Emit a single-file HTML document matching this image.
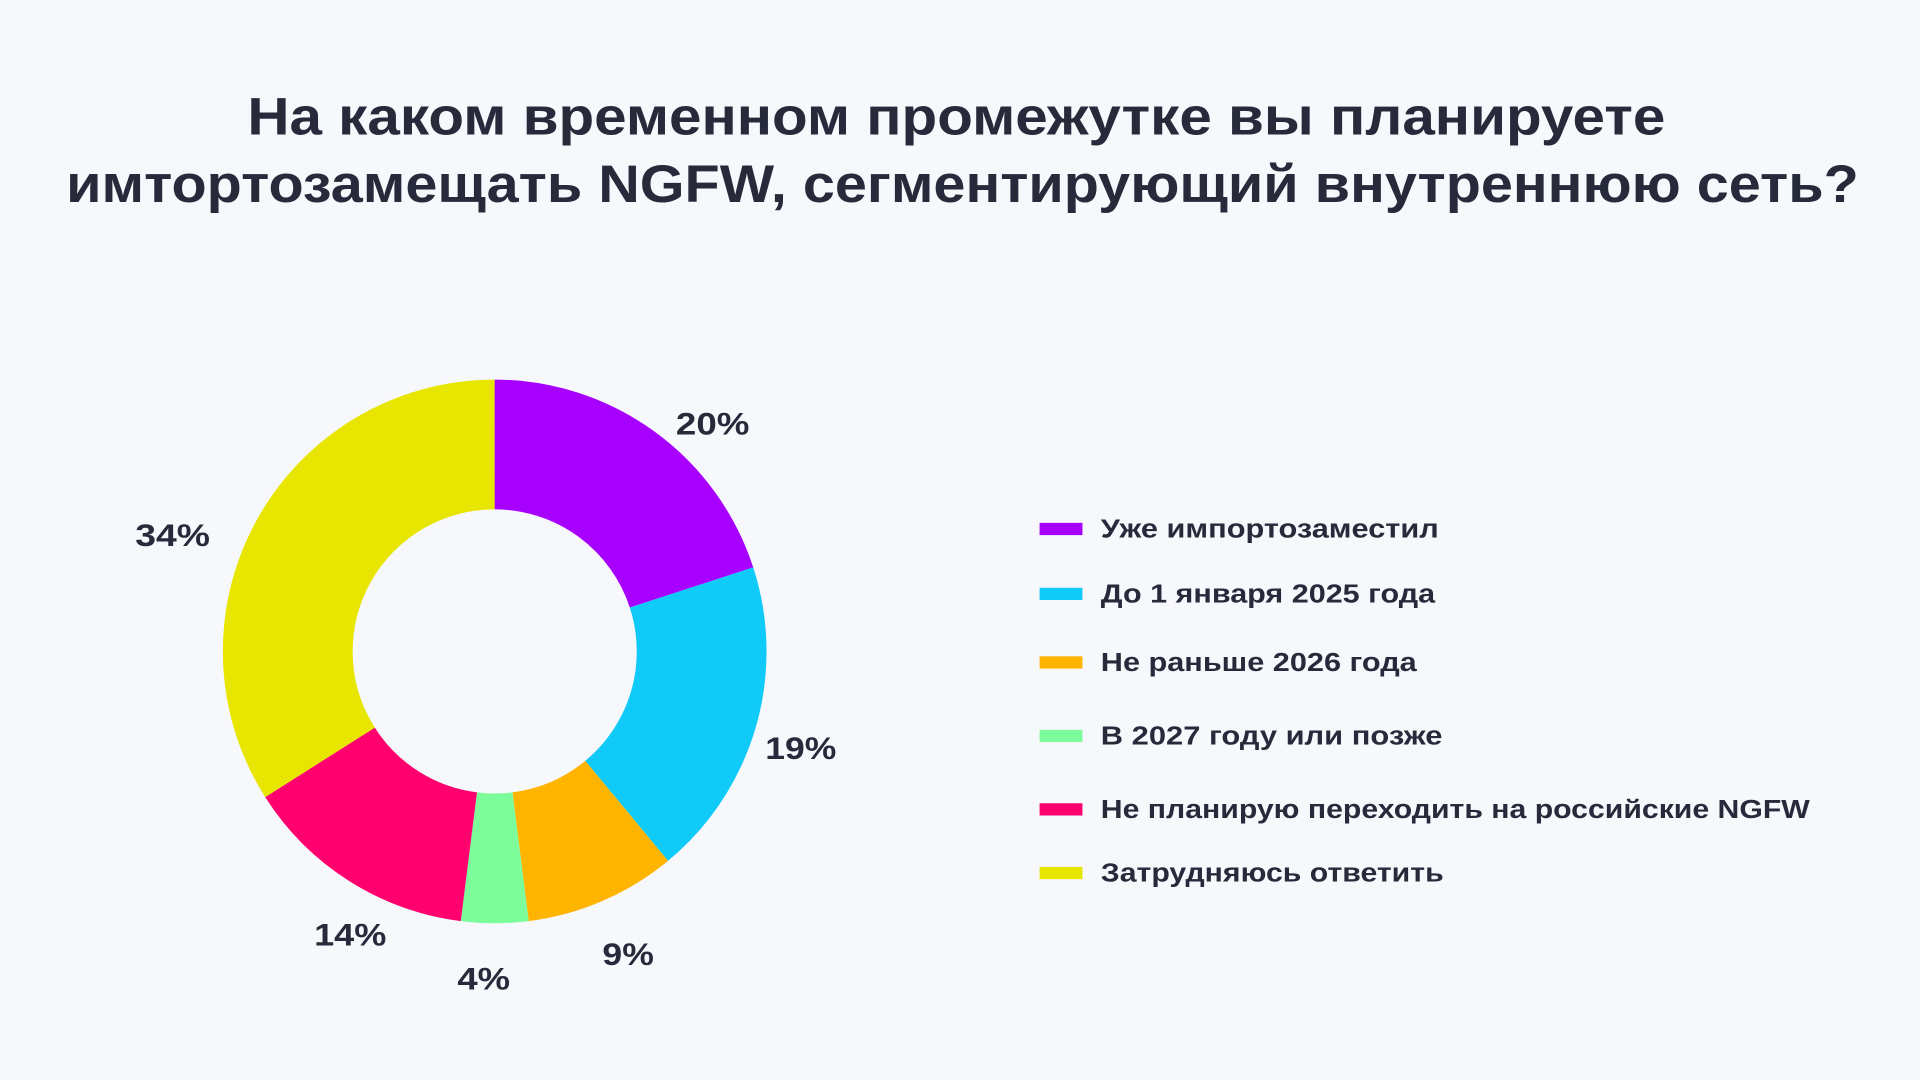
<!DOCTYPE html>
<html><head><meta charset="utf-8"><style>
html,body{margin:0;padding:0;background:#F7F8FC;}
svg{display:block;font-family:"Liberation Sans",sans-serif;font-weight:bold;}
</style></head><body>
<svg width="1920" height="1080" viewBox="0 0 1568 882" preserveAspectRatio="none">
<rect width="1568" height="882" fill="#F7F8FC"/>
<text x="781" y="110" text-anchor="middle" font-size="43" fill="#262A3A" textLength="1158" lengthAdjust="spacingAndGlyphs">На каком временном промежутке вы планируете</text>
<text x="786" y="165" text-anchor="middle" font-size="43" fill="#262A3A" textLength="1464" lengthAdjust="spacingAndGlyphs">имтортозамещать NGFW, сегментирующий внутреннюю сеть?</text>
<g transform="rotate(-90 404 532)" fill="none" stroke-width="106">
<circle cx="404" cy="532" r="169" pathLength="100" stroke="#A800FF" stroke-dasharray="20 80" stroke-dashoffset="0"/>
<circle cx="404" cy="532" r="169" pathLength="100" stroke="#10CAF8" stroke-dasharray="19 81" stroke-dashoffset="-20"/>
<circle cx="404" cy="532" r="169" pathLength="100" stroke="#FFB400" stroke-dasharray="9 91" stroke-dashoffset="-39"/>
<circle cx="404" cy="532" r="169" pathLength="100" stroke="#7CFC9A" stroke-dasharray="4 96" stroke-dashoffset="-48"/>
<circle cx="404" cy="532" r="169" pathLength="100" stroke="#FF006E" stroke-dasharray="14 86" stroke-dashoffset="-52"/>
<circle cx="404" cy="532" r="169" pathLength="100" stroke="#E8E600" stroke-dasharray="34 66" stroke-dashoffset="-66"/>
</g>
<g font-size="26" fill="#262A3A" text-anchor="middle">
<text x="582" y="355" textLength="60" lengthAdjust="spacingAndGlyphs">20%</text>
<text x="654" y="620" textLength="58" lengthAdjust="spacingAndGlyphs">19%</text>
<text x="513" y="788" textLength="42" lengthAdjust="spacingAndGlyphs">9%</text>
<text x="395" y="808" textLength="43" lengthAdjust="spacingAndGlyphs">4%</text>
<text x="286" y="772" textLength="59" lengthAdjust="spacingAndGlyphs">14%</text>
<text x="141" y="446" textLength="61" lengthAdjust="spacingAndGlyphs">34%</text>
</g>
<g>
<rect x="849" y="427" width="35" height="10" fill="#A800FF"/>
<rect x="849" y="480" width="35" height="10" fill="#10CAF8"/>
<rect x="849" y="536" width="35" height="10" fill="#FFB400"/>
<rect x="849" y="596" width="35" height="10" fill="#7CFC9A"/>
<rect x="849" y="656" width="35" height="10" fill="#FF006E"/>
<rect x="849" y="708" width="35" height="10" fill="#E8E600"/>
</g>
<g font-size="21" fill="#262A3A">
<text x="899" y="439" textLength="276" lengthAdjust="spacingAndGlyphs">Уже импортозаместил</text>
<text x="899" y="492" textLength="273" lengthAdjust="spacingAndGlyphs">До 1 января 2025 года</text>
<text x="899" y="548" textLength="258" lengthAdjust="spacingAndGlyphs">Не раньше 2026 года</text>
<text x="899" y="608" textLength="279" lengthAdjust="spacingAndGlyphs">В 2027 году или позже</text>
<text x="899" y="668" textLength="579" lengthAdjust="spacingAndGlyphs">Не планирую переходить на российские NGFW</text>
<text x="899" y="720" textLength="280" lengthAdjust="spacingAndGlyphs">Затрудняюсь ответить</text>
</g>
</svg>
</body></html>
